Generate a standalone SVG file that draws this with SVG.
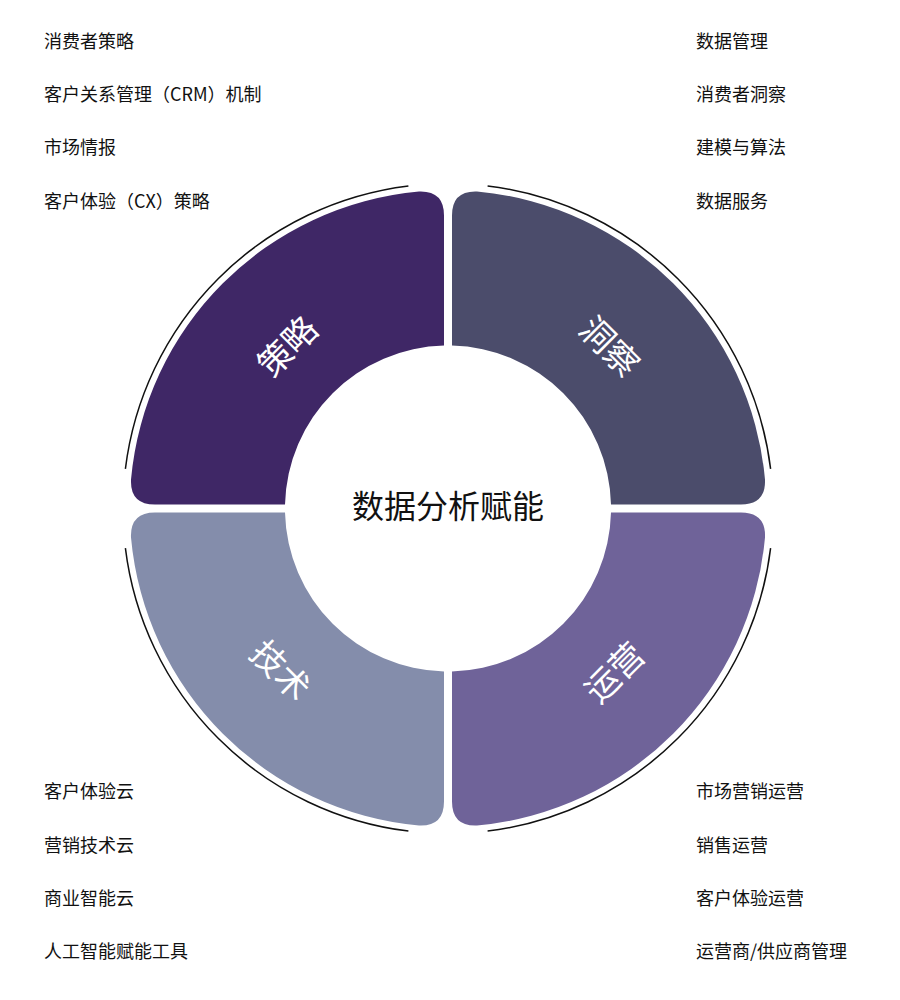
<svg xmlns="http://www.w3.org/2000/svg" width="900" height="1000" viewBox="0 0 900 1000">
<style>
.t{font-family:"Noto Sans CJK SC","Noto Sans",sans-serif;font-size:18px;fill:#111}
.q{font-family:"Noto Sans CJK SC","Noto Sans",sans-serif;font-size:34px;fill:#fff;text-anchor:middle;dominant-baseline:central}
.arc{fill:none;stroke:#111;stroke-width:1.5}
</style>
<defs>
<path id="seg" d="M -4,-293 L -4,-163 A163 163 0 0 0 -163,-4 L -293,-4 Q -318,-4 -317,-29 A318 318 0 0 1 -29,-317 Q -4,-318 -4,-293 Z"/>
<path id="arc" d="M -322.6,-39.6 A325 325 0 0 1 -39.6,-322.6"/>
</defs>
<rect width="900" height="1000" fill="#fff"/>
<g id="connectors" transform="translate(448,508.5)">
<use href="#arc" class="arc"/>
<use href="#arc" class="arc" transform="rotate(90)"/>
<use href="#arc" class="arc" transform="rotate(180)"/>
<use href="#arc" class="arc" transform="rotate(270)"/>
</g>
<g id="strategy"><use href="#seg" fill="#3f2766" transform="translate(448,508.5)"/><text class="q" transform="translate(286,345) rotate(-45)">策略</text></g>
<g id="insight"><use href="#seg" fill="#4b4c6b" transform="translate(448,508.5) rotate(90)"/><text class="q" transform="translate(611,345) rotate(45)">洞察</text></g>
<g id="operations"><use href="#seg" fill="#6f6399" transform="translate(448,508.5) rotate(180)"/><text class="q" transform="translate(613,671) rotate(-45)">运营</text></g>
<g id="technology"><use href="#seg" fill="#848dab" transform="translate(448,508.5) rotate(270)"/><text class="q" transform="translate(282,669) rotate(45)">技术</text></g>
<g id="center"><text x="448" y="504" style="font-family:'Noto Sans CJK SC',sans-serif;font-size:32px;fill:#111;text-anchor:middle;dominant-baseline:central">数据分析赋能</text></g>
<g id="list-tl"><text class="t" x="44" y="48">消费者策略</text><text class="t" x="44" y="101">客户关系管理（CRM）机制</text><text class="t" x="44" y="154">市场情报</text><text class="t" x="44" y="208">客户体验（CX）策略</text></g>
<g id="list-tr"><text class="t" x="696" y="48">数据管理</text><text class="t" x="696" y="101">消费者洞察</text><text class="t" x="696" y="154">建模与算法</text><text class="t" x="696" y="208">数据服务</text></g>
<g id="list-bl"><text class="t" x="44" y="798">客户体验云</text><text class="t" x="44" y="852">营销技术云</text><text class="t" x="44" y="905">商业智能云</text><text class="t" x="44" y="958">人工智能赋能工具</text></g>
<g id="list-br"><text class="t" x="696" y="798">市场营销运营</text><text class="t" x="696" y="852">销售运营</text><text class="t" x="696" y="905">客户体验运营</text><text class="t" x="696" y="958">运营商/供应商管理</text></g>
</svg>
